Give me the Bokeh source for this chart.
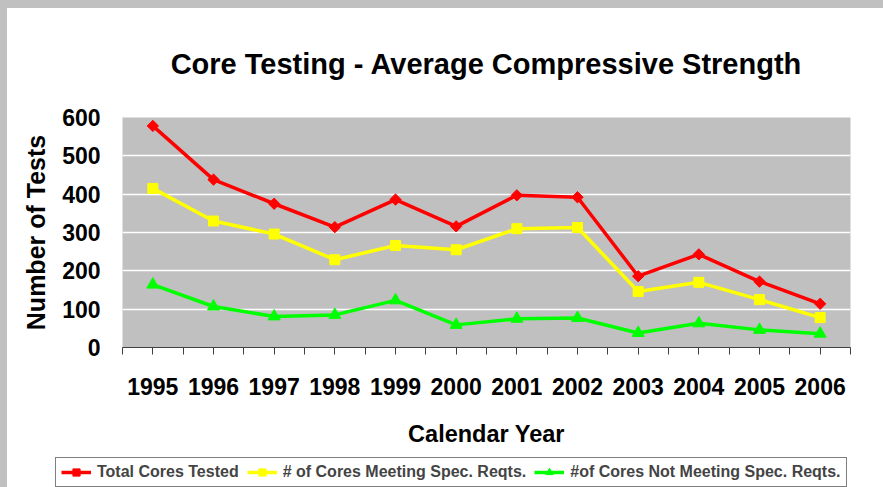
import math
from bokeh.plotting import figure
from bokeh.models import Range1d, FixedTicker, Legend, LegendItem
from bokeh.embed import file_html
from bokeh.resources import INLINE

years = [1995, 1996, 1997, 1998, 1999, 2000, 2001, 2002, 2003, 2004, 2005, 2006]
total_tested = [578, 438, 375, 314, 386, 316, 397, 392, 186, 243, 172, 114]
meeting_spec = [415, 330, 296, 229, 266, 255, 310, 313, 146, 170, 125, 78]
not_meeting_spec = [164, 107, 81, 85, 123, 59, 75, 77, 38, 63, 46, 36]
y_ticks = [0, 100, 200, 300, 400, 500, 600]
grid_ticks = [100, 200, 300, 400, 500]
title_text = "Core Testing - Average Compressive Strength"
series_names = ["Total Cores Tested", "# of Cores Meeting Spec. Reqts.", "#of Cores Not Meeting Spec. Reqts."]
colors = ["#FF0000", "#FFFF00", "#00FF00"]

FONT = "Liberation Sans"

p = figure(frame_width=728, frame_height=230, output_backend="svg", toolbar_location=None,
           x_range=Range1d(years[0] - 0.5, years[-1] + 0.5), y_range=Range1d(0, 600),
           min_border_left=115, min_border_right=33, min_border_top=109, min_border_bottom=108,
           title=title_text)
p.background_fill_color = "#C0C0C0"
p.border_fill_color = "white"
p.outline_line_color = None

# title
p.title.align = "center"
p.title.text_font = FONT
p.title.text_font_style = "bold"
p.title.text_font_size = "29px"
p.title.text_color = "black"
p.title.standoff = 75

# grid
p.xgrid.grid_line_color = None
p.ygrid.ticker = FixedTicker(ticks=grid_ticks)
p.ygrid.grid_line_color = "white"
p.ygrid.grid_line_width = 1.5

# x axis
xa = p.xaxis[0]
xa.ticker = FixedTicker(ticks=years, minor_ticks=[y - 0.5 for y in years] + [years[-1] + 0.5])
xa.axis_line_color = "#404040"
xa.major_tick_line_color = "#404040"
xa.minor_tick_line_color = "#404040"
xa.major_tick_out = 7
xa.major_tick_in = 0
xa.minor_tick_out = 7
xa.minor_tick_in = 0
xa.major_label_text_font = FONT
xa.major_label_text_font_style = "bold"
xa.major_label_text_font_size = "23px"
xa.major_label_text_color = "black"
xa.major_label_standoff = 23
xa.axis_label = "Calendar Year"
xa.axis_label_text_font = FONT
xa.axis_label_text_font_style = "bold"
xa.axis_label_text_font_size = "23.5px"
xa.axis_label_text_color = "black"
xa.axis_label_standoff = 23

# y axis
ya = p.yaxis[0]
ya.ticker = FixedTicker(ticks=y_ticks)
ya.axis_line_color = None
ya.major_tick_line_color = None
ya.minor_tick_line_color = None
ya.major_tick_out = 0
ya.major_tick_in = 0
ya.major_label_text_font = FONT
ya.major_label_text_font_style = "bold"
ya.major_label_text_font_size = "23px"
ya.major_label_text_color = "black"
ya.major_label_standoff = 22
ya.axis_label = "Number of Tests"
ya.axis_label_text_font = FONT
ya.axis_label_text_font_style = "bold"
ya.axis_label_text_font_size = "25px"
ya.axis_label_text_color = "black"
ya.axis_label_standoff = 9

series = [total_tested, meeting_spec, not_meeting_spec]
markers = [dict(marker="square", angle=math.pi / 4, size=8, line_width=1),
           dict(marker="square", size=10),
           dict(marker="triangle", size=12)]


def draw(fig, xs, idx):
    ln = fig.line(xs, series[idx], line_color=colors[idx], line_width=3.5)
    mk = fig.scatter(xs, series[idx], fill_color=colors[idx], line_color=colors[idx], **markers[idx])
    return [ln, mk]


for i in range(3):
    draw(p, years, i)

# legend strip: a separate root below the chart; its data lies outside its frame
lg = figure(width=876, height=32, output_backend="svg", toolbar_location=None,
            x_range=Range1d(0, 1), y_range=Range1d(0, 1),
            x_axis_location=None, y_axis_location=None,
            min_border_left=0, min_border_right=0, min_border_top=0, min_border_bottom=0)
lg.outline_line_color = None
lg.grid.visible = False
lg.background_fill_color = "white"
lg.border_fill_color = "white"
lg_renderers = [draw(lg, years, i) for i in range(3)]

legend = Legend(items=[LegendItem(label=series_names[i], renderers=lg_renderers[i]) for i in range(3)],
                location=(48, 0), orientation="horizontal",
                glyph_width=30, glyph_height=18, label_standoff=6, spacing=8, padding=5, margin=0,
                label_text_font=FONT, label_text_font_style="bold", label_text_font_size="16px",
                label_height=18, border_line_color="black", border_line_width=1,
                background_fill_color="white", background_fill_alpha=1)
lg.add_layout(legend)

html = file_html([p, lg], INLINE)
html = html.replace("</head>", "<style>html{background:#FFFFFF;overflow:hidden;}body{background:#FFFFFF;margin:0;padding:0;border-top:8px solid #C0C0C0;border-left:7px solid #C0C0C0;overflow:hidden;line-height:0;}</style></head>", 1)
open("out.html", "w").write(html)
